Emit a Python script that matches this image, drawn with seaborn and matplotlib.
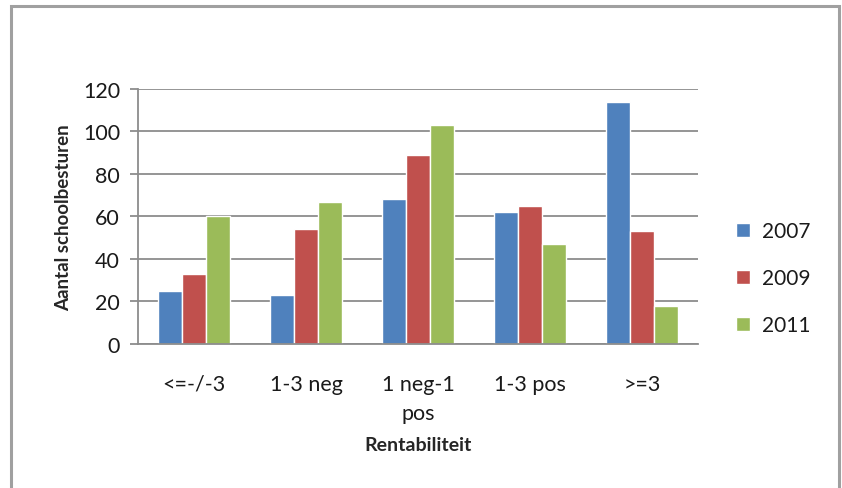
import matplotlib
matplotlib.use("Agg")
import matplotlib.pyplot as plt
import seaborn as sns
import pandas as pd
from matplotlib.patches import Rectangle

categories = ["<=-/-3", "1-3 neg", "1 neg-1\npos", "1-3 pos", ">=3"]
years = ["2007", "2009", "2011"]
values_2007 = [25, 23, 68, 62, 114]
values_2009 = [33, 54, 89, 65, 53]
values_2011 = [60, 67, 103, 47, 18]
colors = ["#4F81BD", "#C0504D", "#9BBB59"]

rows = []
for year, vals in zip(years, [values_2007, values_2009, values_2011]):
    for cat, v in zip(categories, vals):
        rows.append({"Rentabiliteit": cat, "Jaar": year, "Aantal": v})
df = pd.DataFrame(rows)

sns.set_style("white")
plt.rcParams["font.family"] = ["Lato", "DejaVu Sans"]

fig = plt.figure(figsize=(8.42, 4.89), dpi=100)
ax = fig.add_axes([0.164, 0.2945, 0.665, 0.5215])

sns.barplot(data=df, x="Rentabiliteit", y="Aantal", hue="Jaar",
            palette=colors, width=0.64, saturation=1, ax=ax, legend=True)

ax.set_ylim(0, 120)
ax.set_yticks(range(0, 121, 20))
ax.yaxis.grid(True, color="#8c8c8c", linewidth=1.3)
ax.set_axisbelow(True)
for s in ["top", "right"]:
    ax.spines[s].set_visible(False)
for s in ["left", "bottom"]:
    ax.spines[s].set_color("#8c8c8c")
    ax.spines[s].set_linewidth(1.3)
ax.tick_params(axis="y", left=True, length=6, width=1.3, color="#8c8c8c",
               labelsize=15.5, pad=7, labelcolor="#1a1a1a")
ax.tick_params(axis="x", bottom=False, labelsize=15.5, pad=18, labelcolor="#1a1a1a")
for lbl in ax.get_xticklabels():
    lbl.set_linespacing(1.6)
ax.set_xlabel("Rentabiliteit", fontsize=14, fontweight="bold", labelpad=9)
ax.set_ylabel("Aantal schoolbesturen", fontsize=13.5, fontweight="bold", labelpad=8)

handles, labels = ax.get_legend_handles_labels()
ax.legend(handles, labels, loc="center left", bbox_to_anchor=(1.035, 0.258),
          frameon=False, fontsize=15, handlelength=0.65, handleheight=0.65,
          labelspacing=1.3, handletextpad=0.6, labelcolor="#1a1a1a")

fig.patches.append(Rectangle((11 / 842, -0.1), (839 - 11) / 842, 1.1 - 7 / 489,
                             transform=fig.transFigure, fill=False,
                             edgecolor="#a0a0a0", linewidth=2.2))

fig.savefig("out.png", dpi=100)
